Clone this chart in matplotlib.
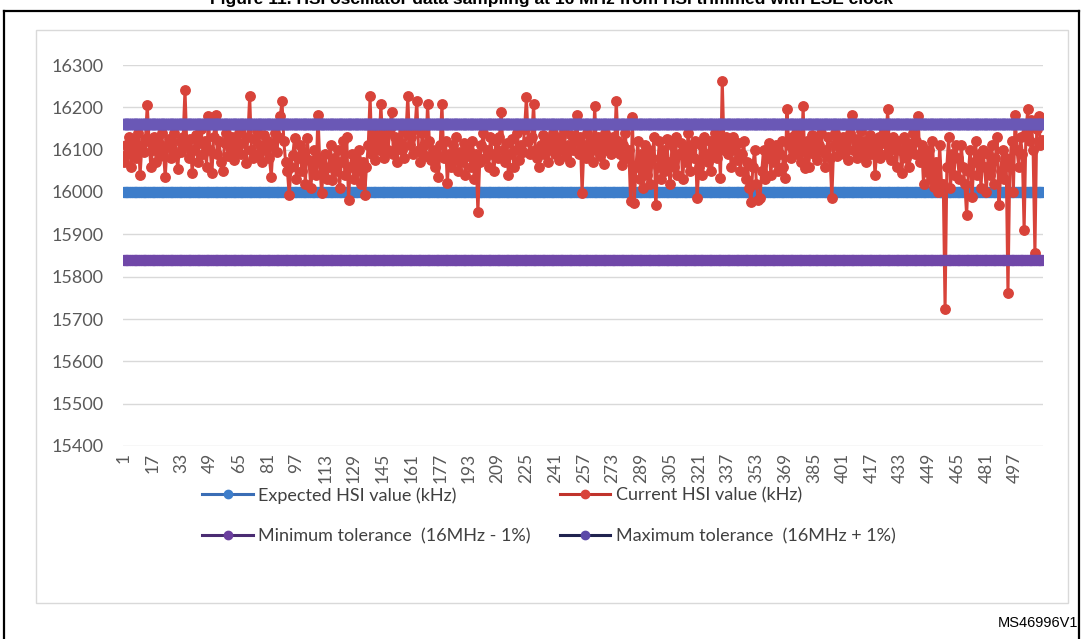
import matplotlib
matplotlib.use("Agg")
import matplotlib.pyplot as plt
from matplotlib.lines import Line2D
from matplotlib.patches import Rectangle
import numpy as np

plt.rcParams['font.family'] = ['Lato', 'DejaVu Sans']

###data (kHz), one row per 16 samples
current_hsi = [
    16070, 16110, 16090, 16130, 16060, 16120, 16100, 16080, 16140, 16040, 16110, 16095, 16125, 16205, 16120, 16060,
    16100, 16130, 16070, 16115, 16085, 16140, 16095, 16035, 16110, 16125, 16080, 16105, 16140, 16090, 16055, 16120,
    16095, 16130, 16242, 16110, 16080, 16125, 16045, 16100, 16135, 16070, 16115, 16150, 16090, 16120, 16060, 16180,
    16100, 16045, 16130, 16183, 16090, 16120, 16070, 16050, 16115, 16140, 16085, 16105, 16130, 16075, 16120, 16095,
    16140, 16090, 16115, 16160, 16069, 16130, 16226, 16100, 16080, 16125, 16145, 16090, 16110, 16070, 16135, 16100,
    16120, 16080, 16036, 16110, 16140, 16095, 16130, 16180, 16214, 16120, 16070, 16050, 15993, 16060, 16088, 16128,
    16030, 16080, 16110, 16050, 16095, 16020, 16128, 16075, 16010, 16060, 16100, 16040, 16183, 16070, 15998, 16050,
    16090, 16030, 16060, 16110, 16029, 16080, 16050, 16100, 16010, 16070, 16120, 16040, 16131, 15981, 16060, 16090,
    16030, 16080, 16050, 16100, 16020, 16070, 15993, 16060, 16110, 16226, 16090, 16140, 16075, 16120, 16100, 16207,
    16120, 16080, 16140, 16100, 16150, 16190, 16090, 16130, 16070, 16120, 16160, 16100, 16080, 16140, 16226, 16110,
    16130, 16090, 16150, 16214, 16100, 16070, 16140, 16110, 16085, 16207, 16120, 16075, 16100, 16060, 16090, 16036,
    16110, 16207, 16080, 16120, 16021, 16090, 16060, 16110, 16075, 16130, 16050, 16095, 16070, 16115, 16040, 16085,
    16100, 16060, 16120, 16030, 16090, 15952, 16070, 16110, 16140, 16080, 16100, 16060, 16130, 16090, 16050, 16120,
    16080, 16130, 16188, 16100, 16070, 16115, 16040, 16090, 16125, 16060, 16100, 16140, 16075, 16110, 16095, 16150,
    16224, 16120, 16090, 16130, 16207, 16100, 16080, 16060, 16110, 16135, 16090, 16115, 16070, 16125, 16100, 16140,
    16090, 16120, 16075, 16130, 16100, 16145, 16085, 16110, 16070, 16135, 16100, 16120, 16183, 16090, 16130, 15998,
    16110, 16080, 16140, 16095, 16125, 16070, 16202, 16100, 16130, 16085, 16115, 16065, 16140, 16100, 16120, 16090,
    16130, 16100, 16214, 16120, 16090, 16064, 16110, 16140, 16080, 16100, 15978, 16176, 15974, 16060, 16120, 16030,
    16090, 16010, 16110, 16040, 16100, 16020, 16080, 16130, 15969, 16060, 16120, 16030, 16100, 16050, 16125, 16070,
    16020, 16110, 16060, 16130, 16040, 16090, 16115, 16030, 16100, 16070, 16140, 16050, 16110, 16080, 16120, 15986,
    16060, 16110, 16040, 16130, 16090, 16070, 16120, 16050, 16100, 16140, 16080, 16120, 16033, 16262, 16100, 16130,
    16090, 16120, 16060, 16130, 16100, 16075, 16115, 16050, 16090, 16120, 16030, 16070, 16010, 15976, 16060, 16100,
    16020, 15980, 15985, 16050, 16100, 16030, 16080, 16115, 16040, 16095, 16070, 16110, 16050, 16090, 16120, 16060,
    16033, 16195, 16110, 16080, 16130, 16100, 16140, 16090, 16120, 16070, 16202, 16057, 16120, 16060, 16100, 16135,
    16090, 16120, 16075, 16110, 16140, 16095, 16060, 16100, 16130, 16080, 15986, 16110, 16140, 16085, 16120, 16100,
    16130, 16090, 16115, 16075, 16140, 16183, 16100, 16125, 16080, 16110, 16145, 16090, 16120, 16070, 16105, 16135,
    16090, 16120, 16040, 16100, 16130, 16080, 16115, 16145, 16090, 16195, 16110, 16075, 16130, 16100, 16060, 16120,
    16100, 16045, 16130, 16080, 16115, 16060, 16105, 16140, 16090, 16120, 16179, 16070, 16110, 16020, 16090, 16048,
    16100, 16030, 16120, 16012, 16070, 16000, 16110, 16020, 16020, 15724, 16060, 16130, 16010, 16090, 16040, 16110,
    16080, 16030, 16110, 16060, 16020, 15945, 16050, 16100, 15988, 16070, 16120, 16040, 16090, 16010, 16100, 16060,
    16000, 16090, 16040, 16110, 16020, 16080, 16130, 15969, 16050, 16100, 16030, 16080, 15762, 16060, 16120, 16000,
    16183, 16100, 16060, 16130, 16090, 15910, 16140, 16195, 16120, 16170, 16100, 15855, 16150, 16180, 16110, 16124,
]
expected_hsi = 16000
min_tol = 15840
max_tol = 16160
y_ticks = [15400, 15500, 15600, 15700, 15800, 15900, 16000, 16100, 16200, 16300]
tick_step = 16

samples = np.arange(1, len(current_hsi) + 1)
n = len(samples)

W, H = 1082, 639
fig = plt.figure(figsize=(W / 100, H / 100), dpi=100)

def fx(px):
    return px / W

def fy(py):
    return 1 - py / H

###outer black frame and light chart box
fig.add_artist(Line2D([fx(3.5), fx(3.5)], [fy(11), 0], color='black', lw=1.6))
fig.add_artist(Line2D([fx(3.5), fx(1078.5)], [fy(11), fy(11)], color='black', lw=1.6))
fig.add_artist(Line2D([fx(1078.5), fx(1078.5)], [fy(11), 0], color='black', lw=1.6))
fig.add_artist(Rectangle((fx(36), fy(603)), fx(1068) - fx(36), fy(30) - fy(603),
                         transform=fig.transFigure, fill=False, edgecolor='#d9d9d9', lw=1))

# title is cut off at the top edge of the original
fig.text(0.51, fy(4), "Figure 11. HSI oscillator data sampling at 16 MHz from HSI trimmed with LSE clock",
         ha='center', va='baseline', fontsize=12.5, fontweight='bold', family=['Liberation Sans', 'DejaVu Sans'])

ax = fig.add_axes([fx(123), fy(446), fx(1043) - fx(123), fy(65) - fy(446)])

ax.plot(samples, [expected_hsi] * n, color='#3d7dca', lw=3, marker='o', ms=7.2, zorder=2)
ax.plot(samples, current_hsi, color='#d8433a', lw=2.2, marker='o', ms=6.8, zorder=3)
ax.plot(samples, [min_tol] * n, color='#7047a8', lw=3, marker='o', ms=7.2, zorder=4)
ax.plot(samples, [max_tol] * n, color='#6a58b6', lw=3, marker='o', ms=7.6, zorder=5)

ax.set_xlim(0.5, n + 0.5)
ax.set_ylim(15400, 16300)
ax.set_yticks(y_ticks)
ax.set_xticks(samples[::tick_step])
ax.set_xticklabels([str(s) for s in samples[::tick_step]], rotation=90)
ax.grid(axis='y', color='#d9d9d9', lw=1, zorder=0)
ax.set_axisbelow(True)
for s in ax.spines.values():
    s.set_visible(False)
ax.tick_params(axis='y', length=0, pad=14, labelsize=13, labelcolor='#595959')
ax.tick_params(axis='x', length=0, pad=5, labelsize=12.5, labelcolor='#595959')

###legend with its own handle colours
h_exp = Line2D([], [], color='#3a6db5', lw=2.2, marker='o', ms=6, mfc='#3d7dca', mec='#3d7dca')
h_cur = Line2D([], [], color='#c0332c', lw=2.2, marker='o', ms=6, mfc='#d8433a', mec='#d8433a')
h_min = Line2D([], [], color='#4a2c72', lw=2.2, marker='o', ms=6, mfc='#6b3f9e', mec='#6b3f9e')
h_max = Line2D([], [], color='#20234f', lw=2.2, marker='o', ms=6, mfc='#5c4aa8', mec='#5c4aa8')
fig.legend(handles=[h_exp, h_min, h_cur, h_max],
           labels=['Expected HSI value (kHz)', 'Minimum tolerance  (16MHz - 1%)',
                   'Current HSI value (kHz)', 'Maximum tolerance  (16MHz + 1%)'],
           ncol=2, loc='upper left', bbox_to_anchor=(fx(186), fy(471)), frameon=False,
           fontsize=13, handlelength=2.8, handletextpad=0.3, columnspacing=1.6,
           labelspacing=1.35, labelcolor='#404040')

fig.text(fx(1078), fy(623), "MS46996V1", ha='right', va='center', fontsize=10.5,
         family=['Liberation Sans', 'DejaVu Sans'])

plt.savefig('out.png', dpi=100)
